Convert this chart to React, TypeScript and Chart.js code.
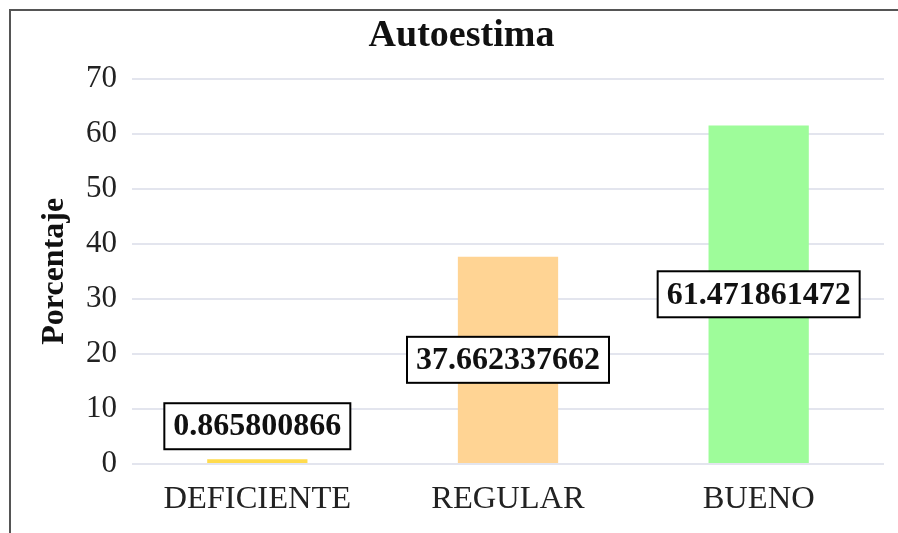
import React, { useEffect, useRef } from "react";
import { Chart, registerables } from "chart.js";

Chart.register(...registerables);

const categories = ["DEFICIENTE", "REGULAR", "BUENO"];
const values = [0.865800866, 37.662337662, 61.471861472];
const labelTexts = ["0.865800866", "37.662337662", "61.471861472"];
const barColors = ["#FFDB4D", "#FFD494", "#9EFC9A"];
const chartTitle = "Autoestima";
const yAxisTitle = "Porcentaje";

const FONT = "'Liberation Serif', 'Times New Roman', serif";

const boxLabelPlugin = {
  id: "boxLabels",
  afterDatasetsDraw(chart: any) {
    const ctx = chart.ctx;
    const meta = chart.getDatasetMeta(0);
    ctx.save();
    ctx.font = `bold 32px ${FONT}`;
    ctx.textAlign = "center";
    ctx.textBaseline = "middle";
    meta.data.forEach((bar: any, i: number) => {
      const text = labelTexts[i];
      const w = ctx.measureText(text).width + 18;
      const h = 46;
      const barH = bar.base - bar.y;
      let cy = (bar.y + bar.base) / 2;
      if (barH < h) cy = bar.y - 10 - h / 2;
      const x = bar.x - w / 2;
      const y = cy - h / 2;
      ctx.fillStyle = "#ffffff";
      ctx.fillRect(x, y, w, h);
      ctx.lineWidth = 2;
      ctx.strokeStyle = "#000000";
      ctx.strokeRect(x, y, w, h);
      ctx.fillStyle = "#111111";
      ctx.fillText(text, bar.x, cy + 1);
    });
    ctx.restore();
  },
};

export default function App() {
  const ref = useRef<HTMLCanvasElement | null>(null);
  useEffect(() => {
    if (!ref.current) return;
    const chart = new Chart(ref.current, {
      type: "bar",
      data: {
        labels: categories,
        datasets: [
          {
            data: values,
            backgroundColor: barColors,
            barPercentage: 0.5,
            categoryPercentage: 0.8,
          },
        ],
      },
      options: {
        responsive: false,
        animation: false,
        layout: { padding: { left: 28, right: 25, top: 0, bottom: 8 } },
        plugins: {
          legend: { display: false },
          tooltip: { enabled: false },
          title: {
            display: true,
            text: chartTitle,
            color: "#111",
            font: { family: FONT, size: 38, weight: "bold" },
            padding: { top: 2, bottom: 20 },
          },
        },
        scales: {
          x: {
            grid: { display: false },
            border: { display: false },
            ticks: {
              color: "#222",
              font: { family: FONT, size: 32.5 },
              padding: 8,
            },
          },
          y: {
            min: 0,
            max: 70,
            ticks: {
              stepSize: 10,
              color: "#222",
              font: { family: FONT, size: 31 },
              padding: 15,
            },
            grid: { color: "#e3e5ee", lineWidth: 2, drawTicks: false },
            border: { display: false },
            title: {
              display: true,
              text: yAxisTitle,
              color: "#111",
              font: { family: FONT, size: 32, weight: "bold", lineHeight: 1.0 },
              padding: { top: 0, bottom: 0 },
            },
          },
        },
      },
      plugins: [boxLabelPlugin],
    });
    return () => chart.destroy();
  }, []);
  return (
    <div
      style={{
        position: "absolute",
        left: 9,
        top: 9,
        width: 889,
        height: 524,
        overflow: "hidden",
        borderLeft: "2px solid #555",
        borderTop: "2px solid #555",
        background: "#fff",
      }}
    >
      <canvas ref={ref} width={898} height={524} style={{ display: "block" }} />
    </div>
  );
}
